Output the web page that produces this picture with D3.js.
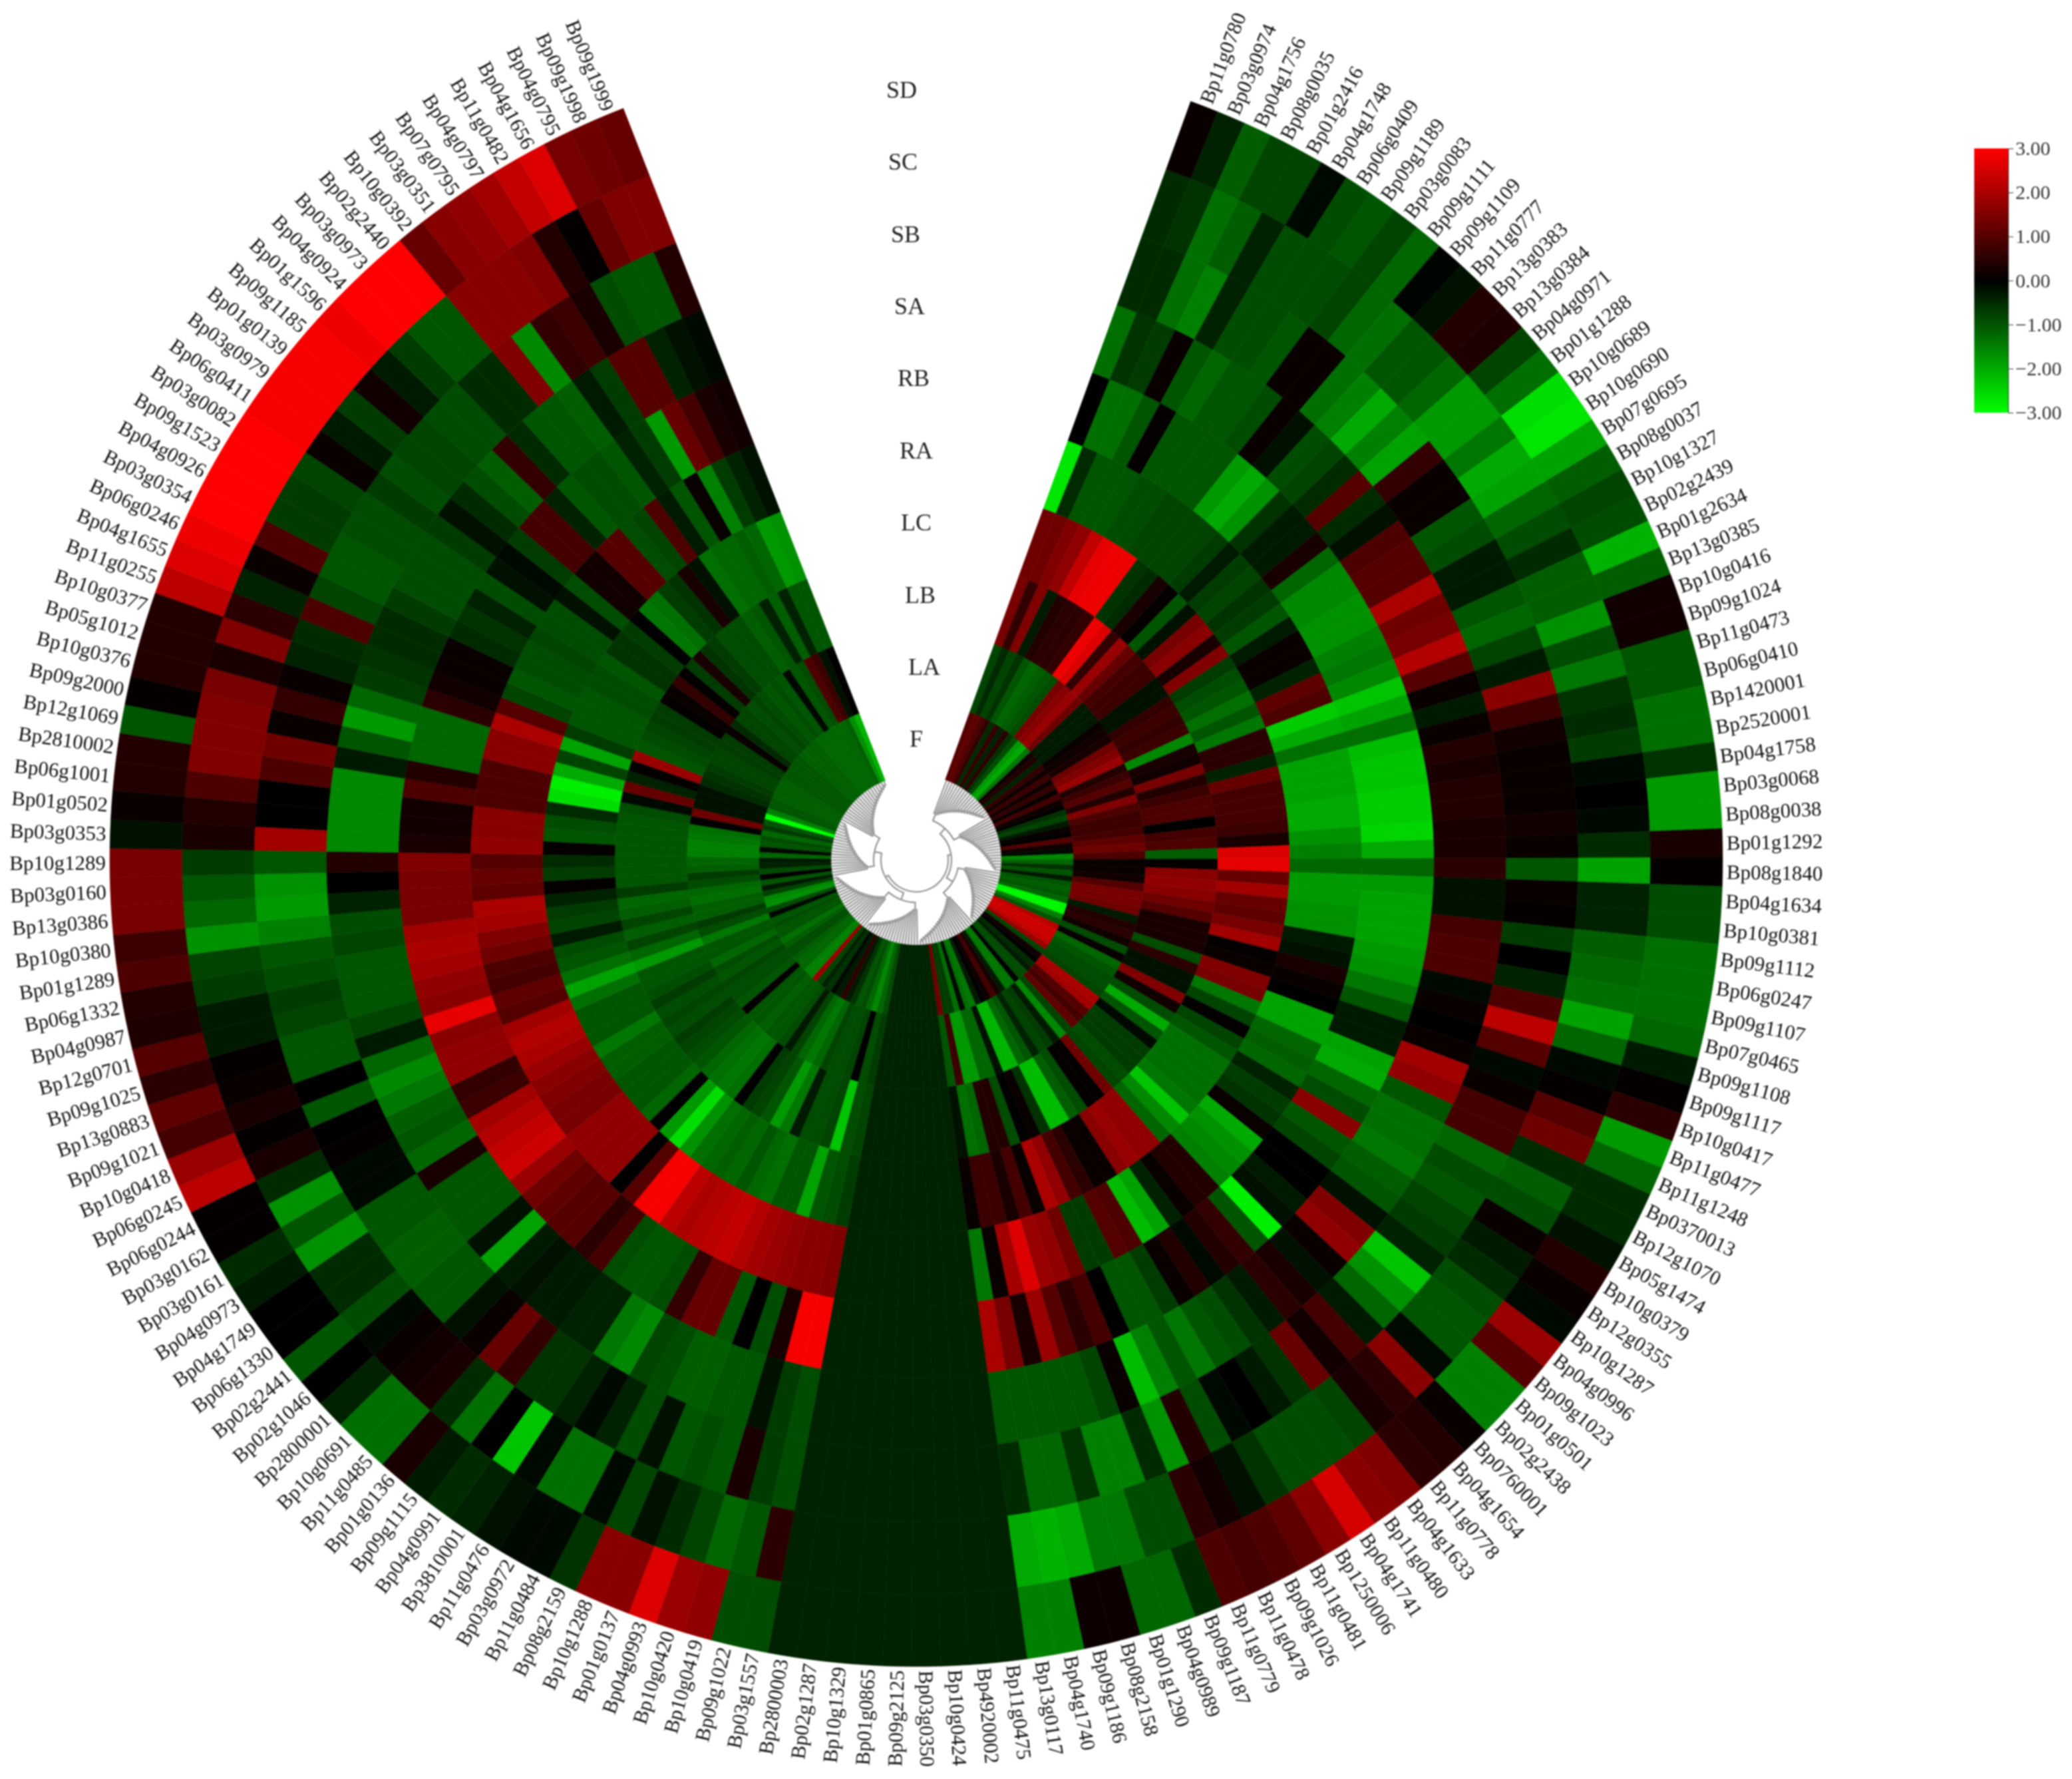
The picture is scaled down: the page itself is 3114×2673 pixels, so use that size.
<!DOCTYPE html>
<html><head><meta charset="utf-8">
<script src="https://cdn.jsdelivr.net/npm/d3@7"></script>
<style>html,body{margin:0;background:#fff}svg{display:block}text{font-family:"Liberation Serif",serif}</style>
</head><body><svg id="c" width="3114" height="2673"></svg>
<script>
const genes=["Bp11g0780","Bp03g0974","Bp04g1756","Bp08g0035","Bp01g2416","Bp04g1748","Bp06g0409","Bp09g1189","Bp03g0083","Bp09g1111",
"Bp09g1109","Bp11g0777","Bp13g0383","Bp13g0384","Bp04g0971","Bp01g1288","Bp10g0689","Bp10g0690","Bp07g0695","Bp08g0037",
"Bp10g1327","Bp02g2439","Bp01g2634","Bp13g0385","Bp10g0416","Bp09g1024","Bp11g0473","Bp06g0410","Bp1420001","Bp2520001",
"Bp04g1758","Bp03g0068","Bp08g0038","Bp01g1292","Bp08g1840","Bp04g1634","Bp10g0381","Bp09g1112","Bp06g0247","Bp09g1107",
"Bp07g0465","Bp09g1108","Bp09g1117","Bp10g0417","Bp11g0477","Bp11g1248","Bp0370013","Bp12g1070","Bp05g1474","Bp10g0379",
"Bp12g0355","Bp10g1287","Bp04g0996","Bp09g1023","Bp01g0501","Bp02g2438","Bp0760001","Bp04g1654","Bp11g0778","Bp04g1633",
"Bp11g0480","Bp04g1741","Bp1250006","Bp11g0481","Bp09g1026","Bp11g0478","Bp11g0779","Bp09g1187","Bp04g0989","Bp01g1290",
"Bp08g2158","Bp09g1186","Bp04g1740","Bp13g0117","Bp11g0475","Bp4920002","Bp10g0424","Bp03g0350","Bp09g2125","Bp01g0865",
"Bp10g1329","Bp02g1287","Bp2800003","Bp03g1557","Bp09g1022","Bp10g0419","Bp10g0420","Bp04g0993","Bp01g0137","Bp10g1288",
"Bp08g2159","Bp11g0484","Bp03g0972","Bp11g0476","Bp3810001","Bp04g0991","Bp09g1115","Bp01g0136","Bp11g0485","Bp10g0691",
"Bp2800001","Bp02g1046","Bp02g2441","Bp06g1330","Bp04g1749","Bp04g0973","Bp03g0161","Bp03g0162","Bp06g0244","Bp06g0245",
"Bp10g0418","Bp09g1021","Bp13g0883","Bp09g1025","Bp12g0701","Bp04g0987","Bp06g1332","Bp01g1289","Bp10g0380","Bp13g0386",
"Bp03g0160","Bp10g1289","Bp03g0353","Bp01g0502","Bp06g1001","Bp2810002","Bp12g1069","Bp09g2000","Bp10g0376","Bp05g1012",
"Bp10g0377","Bp11g0255","Bp04g1655","Bp06g0246","Bp03g0354","Bp04g0926","Bp09g1523","Bp03g0082","Bp06g0411","Bp03g0979",
"Bp01g0139","Bp09g1185","Bp01g1596","Bp04g0924","Bp03g0973","Bp02g2440","Bp10g0392","Bp03g0351","Bp07g0795","Bp04g0797",
"Bp11g0482","Bp04g1656","Bp04g0795","Bp09g1998","Bp09g1999"];
const SD=[0.1,-0.4,-1.1,-0.8,-0.8,-0.1,-0.9,-1.0,-0.8,-1.2,
-0.05,-0.2,0.4,0.35,-0.8,-1.3,-2.6,-2.7,-1.9,-1.1,
-0.8,-0.9,-2.1,-1.1,0.2,0.2,-1.0,-1.0,-1.3,-1.3,
-0.6,-1.8,-1.8,0.3,0.05,-0.9,-0.9,-1.3,-1.3,-1.3,
-1.2,-0.3,0.05,0.5,-1.8,-1.2,-0.5,-0.5,-0.2,0.4,
0.1,-0.1,1.8,1.0,-1.5,-1.5,0.1,0.4,0.5,1.5,
1.6,2.5,1.6,1.1,0.9,0.8,0.9,-0.5,-1.2,-1.2,
0.15,0.15,-1.5,-1.5,-0.4,-0.4,-0.4,-0.4,-0.4,-0.4,
-0.4,-0.4,-0.4,-0.9,-0.9,1.7,1.8,2.6,1.6,1.6,
-0.6,-0.1,-0.1,-0.2,-0.4,-0.5,-0.3,0.3,-1.3,-1.3,
-0.4,0.0,-1.0,0.0,0.0,-0.3,-0.5,0.05,0.05,2.2,
1.8,0.8,1.1,0.5,1.0,0.35,0.4,0.9,0.7,1.4,
1.4,1.4,-0.2,0.1,0.4,0.4,-1.0,0.05,0.4,0.4,
0.4,2.2,2.6,2.8,3,3,3,3,2.9,2.9,
2.9,2.9,2.8,3,3,3,1.2,1.6,1.7,1.9,
2.3,2.6,1.4,1.3,1.2];
const SC=[-0.5,-0.6,-1.3,-1.1,-0.4,-0.9,-0.9,-0.9,-0.8,-1.2,
-1.3,-1.0,-1.0,-1.2,-1.8,-1.8,-1.4,-2.0,-1.9,-1.2,
-0.9,-0.5,-1.1,-1.1,-1.7,-0.9,-1.4,-0.6,-0.5,-0.7,
-0.1,0.0,-0.1,-0.5,-1.9,-0.4,-0.4,-1.1,-1.2,-1.3,
-1.9,-1.2,-0.1,0.05,1.0,1.3,-0.5,-1.1,-0.9,0.1,
-0.3,-0.5,-0.9,-1.0,-1.0,-0.1,1.6,0.5,0.3,-0.8,
-0.9,-0.9,-0.9,-0.6,-0.2,0.2,0.5,-0.9,-0.9,-1.4,
-1.4,-2.0,-2.1,-2.0,-0.4,-0.4,-0.4,-0.4,-0.4,-0.4,
-0.4,-0.4,-0.4,0.5,-1.0,-1.2,-0.8,-0.5,-0.2,-0.8,
-0.1,-1.3,-1.3,-0.1,-2.3,0.0,-1.3,-0.5,0.3,0.2,
0.1,-0.1,-0.9,-0.5,-0.5,-1.7,-1.0,-1.7,-0.5,0.3,
0.05,0.3,0.1,0.05,-0.3,-0.3,-0.7,-0.8,-1.7,-1.2,
-1.0,-0.7,0.3,0.4,0.9,1.5,1.5,1.5,1.4,0.3,
1.5,0.5,-0.4,0.1,0.9,-0.7,-0.7,-0.8,0.1,-0.3,
-0.7,0.2,-0.3,-0.7,-1.0,-1.0,1.6,1.6,1.6,1.5,
0.4,0.05,1.2,1.5,1.5];
const SB=[-0.5,-0.5,-1.3,-1.5,-0.4,-0.9,-0.9,-1.0,0.1,0.1,
-1.3,-1.5,-2.0,-1.5,-1.9,0.6,0.1,0.1,-1.0,-0.9,
-0.3,-0.3,-1.0,-1.2,-0.8,-0.3,1.6,0.7,0.2,0.1,
0.1,0.1,0.2,0.1,-1.0,0.1,0.05,-0.7,0.0,-0.4,
0.9,2.2,1.0,-0.1,0.1,0.8,0.8,-1.2,-0.9,-1.0,
-0.8,-0.7,-0.4,-2.3,-1.7,-1.2,-0.3,0.8,0.2,1.2,
-0.6,-0.3,0,-0.1,-0.9,0.4,-1.7,-0.5,-1.5,-1.5,
-0.6,-1.2,-1.2,-0.5,-0.4,-0.4,-0.4,-0.4,-0.4,-0.4,
-0.4,-0.4,-0.4,-0.9,-0.7,0.3,-1.0,-0.9,-1.0,-0.2,
-0.9,-0.4,-0.1,-0.4,-0.6,-0.6,0.6,1.2,0.1,-0.2,
-1.0,-1.0,-1.1,-1.1,-1.0,-1.0,-0.1,-0.1,0.05,0.0,
-1.0,0.0,-1.0,-1.0,-0.8,-0.7,-0.9,-1.0,-1.5,-1.8,
-1.7,-1.0,1.9,0,0,0.9,1.3,0.1,0.6,0.1,
-0.4,-0.5,0.9,-0.8,-1.0,-1.0,-0.9,-0.9,-0.7,-0.9,
-0.8,-0.8,-0.9,-0.9,-0.5,-0.5,1.5,-1.6,0.6,0.7,
0.3,-0.9,-1.0,-1.0,0.4];
const SA=[-1.3,-0.6,-0.7,0.1,-1.0,-1.2,-1.0,-1.0,-0.9,0.1,
-0.2,-0.9,-0.8,-0.5,1.0,-0.5,-0.2,0.9,1.0,1.0,
2.0,1.3,1.4,2.1,1.0,0.1,-0.3,0.1,0.4,0.3,
0.4,0.4,0.3,0.3,0.5,-0.2,-0.2,0.8,0.9,0.9,
-0.1,0.1,0.0,0.1,1.9,1.7,-1.0,-1.3,-1.3,-1.4,
-1.1,-1.0,-0.2,1.5,1.7,0.1,-0.2,0.3,0.5,-0.3,
-0.6,-0.9,-1.0,-1.4,-1.0,-1.5,-2.2,0.1,-0.8,-1.0,
-1.0,-1.0,-1.0,-1.0,-0.4,-0.4,-0.4,-0.4,-0.4,-0.4,
-0.4,-0.4,-0.4,-0.9,-0.7,-0.2,-1.0,-1.0,-1.1,-1.1,
-0.9,-0.8,-1.6,-1.4,-0.4,-0.4,-0.3,-0.3,-0.2,-0.3,
-1.9,-0.2,-1.0,-1.0,-1.0,0.3,-1.2,-1.0,-1.1,-1.4,
-1.6,-1.2,-0.3,-0.8,-1.0,-1.0,-1.0,-0.8,-0.9,-0.4,
0.0,0.4,-1.6,-1.6,-1.6,-1.6,-0.3,-1.0,-1.8,-1.2,
-0.7,-0.6,-0.5,-0.5,-0.7,-0.9,-0.9,-0.9,-0.7,-0.2,
-0.5,-0.9,-1.1,0.6,-0.5,-1.0,-1.0,-1.1,-0.3,-0.7,
1.0,1.0,-0.4,-0.2,-0.1];
const RB=[0.0,-1.3,-1.3,-1.0,0.05,-1.0,-1.0,-1.0,-1.0,-1.8,
-2.0,-1.7,-0.6,-0.3,-0.3,0.3,-1.2,-1.6,-1.6,-1.7,
-1.7,-1.5,-1.4,-1.6,-2.3,-1.9,-1.3,-2.2,-2.3,-2.3,
-2.4,-2.4,-2.5,-2.0,-1.2,-1.8,-1.9,-1.9,-1.9,-1.8,
-1.7,-1.4,-1.0,-0.3,-0.3,-1.9,-2.0,-1.2,-0.9,1.6,
-1.0,-0.8,0.0,0.0,-0.3,-0.2,-2.8,-1.0,0.6,0.4,
-0.1,0.4,0.1,-0.7,-1.0,-1.0,0.0,0.8,0.5,1.0,
1.8,0.3,1.4,2.0,-0.4,-0.4,-0.4,-0.4,-0.4,-0.4,
-0.4,-0.4,-0.4,2.9,2.9,0.3,-0.9,0.0,-1.0,1.2,
1.2,0.6,-0.9,-1.0,-1.0,-0.9,0.8,0.5,1.0,1.0,
1.1,1.3,1.8,2.4,2.3,2.1,1.9,0.7,0.6,1.7,
1.7,1.6,2.7,1.6,1.7,1.9,2.0,1.9,1.4,1.4,
1.4,1.5,0.3,0.2,0.2,0.9,0.4,-1.2,-1.2,-1.2,
0.5,0.2,0.1,0.1,-0.5,-0.6,-0.4,-0.9,-0.2,-0.1,
-0.7,0.8,0.8,-0.4,-1.0,-0.9,-0.9,-1.0,-0.4,-0.7,
-1.8,1.2,0.8,0.3,0.2];
const RA=[-2.7,-0.5,-1.0,-1.0,-1.0,-0.9,-0.9,-0.8,-0.8,-0.8,
-0.8,-0.7,-0.3,-0.7,-0.8,-0.6,-0.7,-1.0,-0.3,0.1,
0.1,-0.4,1.1,0.9,-2.4,-2.0,-1.3,-1.9,-1.9,-1.9,
-2.0,-2.0,-1.7,-1.5,-1.2,-1.8,-1.8,-1.7,-1.7,-0.3,
-0.2,0.3,0.1,0.0,-1.9,-1.9,-1.2,-1.1,-1.2,-0.4,
-0.7,-0.6,0.1,-2.0,-1.7,-1.6,-1.5,0.4,0.4,0.1,
-0.4,-1.9,-2.2,0.9,1.0,-0.7,-0.7,1.3,1.7,1.8,
2.6,1.9,0.1,-1.4,-0.4,-0.4,-0.4,-0.4,-0.4,-0.4,
-0.4,-0.4,-0.4,1.5,1.6,1.6,1.7,1.8,1.9,2.1,
2.3,2.2,2.1,2.0,2.2,2.9,2.9,1.0,0.0,1.7,
1.7,1.7,1.7,1.4,1.4,1.5,1.6,1.8,2.0,2.1,
1.9,1.0,1.1,0.8,0.9,1.3,1.5,1.9,2.0,1.1,
1.2,1.0,1.7,1.6,1.6,0.9,0.9,0.9,1.6,1.6,
2.0,1.0,-0.8,-1.0,-0.9,-0.9,-0.8,-0.9,-0.9,-0.2,
-0.9,0.2,0.2,1.0,1.0,-0.9,-0.8,0.9,-0.3,-1.0,
0.1,-1.5,-0.7,-0.4,-0.2];
const LC=[1.3,1.3,1.5,1.7,2.3,2.7,2.8,2.8,-0.6,-0.5,
0.3,0.05,-1.0,-0.2,1.4,1.6,0.3,1.5,-0.7,-0.9,
-1.0,-1.3,-1.0,-1.4,0.5,0.5,-0.4,1.2,0.8,0.8,
0.8,0.7,0.3,2.6,2.7,1.2,1.9,1.2,1.1,1.4,
1.9,0.05,0.1,1.5,1.4,-1.4,-0.8,0.05,-0.8,-1.0,
-1.3,-1.3,-1.3,-1.3,-1.4,-2.3,-1.6,-1.2,1.7,1.7,
1.8,1.6,0.1,0.1,0.5,0.8,1.7,2.0,0.1,0.8,
0.3,0.7,0.7,0.1,-0.4,-0.4,-0.4,-0.4,-0.4,-0.4,
-0.4,-0.4,-0.4,-0.7,-0.9,-1.0,-1.9,-1.0,-1.0,-1.3,
-1.2,-1.0,-1.2,-1.1,-1.2,-1.3,-1.7,-2.6,-1.8,0.0,
-1.2,-1.0,-1.0,-1.0,-1.1,-1.1,-1.4,-1.0,-1.0,-1.0,
-1.3,-1.9,-1.3,-1.0,-0.9,-0.3,-0.8,-0.7,-0.4,0.05,
-0.7,-0.5,0.05,-1.0,-0.9,-0.5,-2.6,-2.8,-2.0,-0.8,
-1.9,-0.7,-1.0,-1.0,-1.0,-0.9,-0.9,-1.0,-0.6,-0.6,
-0.7,0.0,-1.4,-1.3,-0.7,-0.6,0.3,-0.2,-1.3,-1.2,
-1.2,-1.1,-1.2,-1.8,-1.7];
const LB=[1.4,0.6,1.5,-0.3,0.4,0.5,0.5,0.6,2.8,2.6,
0.6,1.8,1.2,0.8,0.7,0.7,-0.2,-0.2,0.6,0.7,
0.6,0.7,-1.6,0.3,0.2,1.4,0.4,0.7,0.9,0.9,
0.0,0.8,0.9,-1.1,0.05,1.6,1.7,1.6,1.3,1.0,
0.3,0.3,0.3,-0.9,0.5,-0.2,-0.2,1.5,0.2,-0.9,
-2.0,-1.0,-0.1,-0.7,-0.7,-0.7,-0.9,-0.8,1.3,0.05,
0.05,-0.9,-1.1,-2.2,-2.2,-0.6,0.1,0.0,-0.9,0.4,
0.4,-1.2,-1.3,-0.2,-0.4,-0.4,-0.4,-0.4,-0.4,-0.4,
-0.4,-0.4,-0.4,-0.8,-0.9,-2.3,-0.8,-0.9,-0.9,-0.3,
-1.4,-1.8,-1.0,-0.8,-0.7,0.0,-1.3,-1.4,-1.3,-1.2,
-1.0,-0.9,-0.8,-0.7,-0.9,-0.8,-0.9,-0.7,-0.9,-1.0,
-1.0,-1.8,-1.2,-0.8,-1.1,-0.8,-1.1,-1.2,-0.7,-1.0,
-1.0,-1.0,-1.0,-1.0,-1.0,-1.0,-0.9,-0.1,1.2,-0.4,
0.05,1.8,-1.0,-0.9,-0.8,-0.7,-0.7,0.05,0.1,0.6,
0.05,-0.7,0.3,-0.6,-0.7,-0.9,-0.9,-0.9,-1.1,-1.0,
-0.4,-1.1,-0.4,-1.0,-1.0];
const LA=[-0.8,-0.5,-0.8,-0.6,-1.0,-1.2,-1.1,-1.0,-0.9,1.4,
1.6,1.8,1.3,-0.3,-0.3,-0.3,0.1,0.2,0.3,1.3,
1.5,1.8,0.4,0.7,1.0,0.4,1.5,0.9,0.7,0.7,
0.8,1.1,1.3,0.9,0.1,0.1,0.2,1.0,1.4,1.4,
1.3,-0.3,0.4,0.5,0.2,-0.9,0.1,-1.2,-1.0,-0.9,
-0.9,-0.8,2.0,1.9,1.0,0.8,1.1,-0.8,-1.6,-0.3,
-0.7,-0.8,-0.4,-1.0,-1.2,-2.1,-2.1,-0.2,-1.2,-1.2,
-1.8,-1.8,0.7,-1.0,-0.4,-0.4,-0.4,-0.4,-0.4,-0.4,
-0.4,-0.4,-0.4,-0.7,-0.9,0.0,-0.8,-0.9,-0.9,-0.8,
-1.2,-1.4,-1.2,-0.8,-0.3,-0.9,-1.0,-1.0,-1.1,-1.0,
-1.0,0.05,-1.0,-0.9,-0.9,-0.8,-1.0,-0.9,-1.2,-1.0,
-1.0,-1.4,-0.9,-0.7,-1.1,-1.1,-1.3,-1.2,-0.9,-0.7,
-1.1,-1.2,-1.5,-1.5,-1.4,-1.3,0.05,1.3,-0.2,-0.2,
-0.2,-0.5,-0.6,-0.7,-0.8,-0.8,-0.7,-0.7,0.1,-0.5,
-0.8,-0.8,-0.9,-0.8,-0.9,-1.0,-0.9,-1.0,-0.1,-1.0,
-0.9,0.9,0.7,-0.2,0.05];
const F=[1.0,1.1,0.9,0.6,-0.5,0.6,-0.4,0.5,-0.6,-0.9,
-1.8,-2.0,-1.4,0.2,0.4,-0.4,0.6,0.2,0.7,0.2,
0.6,0.1,0.8,0.2,0.05,-0.6,-0.8,-0.3,0.1,0.0,
1.0,0.2,-0.1,-1.6,-1.2,-0.6,-1.0,-0.3,-1.0,-1.1,
-1.0,-1.2,-2.9,-2.9,-1.5,-1.0,2.2,2.4,2.4,2.3,
1.8,-0.8,0.2,0.0,-0.5,-0.3,-0.9,-0.9,0.0,-1.4,
-1.4,-0.3,0.3,0.8,0.2,0.0,-0.3,-1.4,-1.3,-0.1,
-1.3,-0.7,-0.7,1.3,-0.4,-0.4,-0.4,-0.4,-0.4,-0.4,
-0.4,-0.4,-0.4,-0.9,-1.2,-1.6,-1.2,-0.9,-1.0,-0.6,
-0.3,0.5,-0.3,-0.1,-0.6,-0.4,-0.8,1.8,-1.5,-1.5,
-1.2,-1.2,-1.1,-0.9,-0.9,-1.1,-1.3,-1.0,-1.0,-0.9,
-1.0,-0.1,-0.9,-1.7,-1.6,-0.8,-0.3,-1.0,0.0,-0.9,
-0.4,-0.3,-1.2,-0.1,-1.0,-0.9,-1.2,-0.7,-1.0,-3.0,
-1.5,-1.0,-1.0,-1.1,-1.1,-1.1,-1.1,-1.0,-1.0,-1.0,
-1.0,-1.0,-1.1,-1.1,-1.1,-1.1,-1.2,-1.2,-1.2,-1.2,
-1.2,-1.2,-1.1,-1.7,-2.1];
const ringNames=["F","LA","LB","LC","RA","RB","SA","SB","SC","SD"];
const ringValues=[F,LA,LB,LC,RA,RB,SA,SB,SC,SD];
const ringLabelShift=[0,6,3,0,0,-2,-5,-8,-10,-11];
const legendTicks=[3,2,1,0,-1,-2,-3];

const svg=d3.select("#c"),cx=1377,cy=1292;
const deg=Math.PI/180;
const angle=d3.scaleBand().domain(genes).range([19.9*deg,338.7*deg]);
const radius=d3.scaleBand().domain(ringNames).range([128,1212]);
const color=d3.scaleLinear().domain([-3,0,3]).range(["#00ff00","#000000","#ff0000"]);
svg.style("filter","blur(0.9px)");
const root=svg.append("g").attr("transform",`translate(${cx},${cy})`);
const arc=d3.arc();

ringNames.forEach((ring,r)=>{
  root.append("g").selectAll("path").data(genes).join("path")
   .attr("d",g=>arc({innerRadius:radius(ring),outerRadius:radius(ring)+radius.bandwidth(),startAngle:angle(g),endAngle:angle(g)+angle.bandwidth()}))
   .attr("fill",(g,i)=>color(ringValues[r][i]))
   .attr("stroke",(g,i)=>color(ringValues[r][i])).attr("stroke-width",0.6);
});

// gene labels
root.append("g").selectAll("text").data(genes).join("text")
 .attr("font-size",31).attr("fill","#111").attr("dy","0.34em")
 .attr("text-anchor",g=>(angle(g)+angle.bandwidth()/2)>Math.PI?"end":"start")
 .attr("transform",g=>{const a=(angle(g)+angle.bandwidth()/2)/deg;
   return `rotate(${a-90}) translate(1218,0)`+(a>180?" rotate(180)":"");})
 .text(g=>g);

// ring names
root.append("g").selectAll("text").data(ringNames).join("text")
 .attr("font-size",36).attr("text-anchor","middle").attr("fill","#222").attr("dy","0.35em")
 .attr("x",(d,i)=>ringLabelShift[i]*2)
 .attr("y",d=>-(radius(d)+radius.bandwidth()/2))
 .text(d=>d);

// dendrogram: nested binary tree over the gene order
function build(lo,hi){
  if(hi-lo===1) return {name:genes[lo]};
  const n=hi-lo, ladder=n<=20, mid=ladder?lo+1:lo+Math.floor(n/2);
  return {ladder,children:[build(lo,mid),build(mid,hi)]};
}
const h=d3.hierarchy(build(0,genes.length));
h.leaves().forEach((l,i)=>{l.a=angle(genes[i])+angle.bandwidth()/2;});
h.eachAfter(n=>{if(n.children)n.a=(n.children[0].a+n.children[1].a)/2;});
h.eachBefore(n=>{n.r=n.parent?n.parent.r+(n.parent.data.ladder?2.6:(n.depth<2?5:11)):48; if(!n.children)n.r=128;});
const pt=(a,r)=>[r*Math.sin(a),-r*Math.cos(a)];
const dend=d3.path();
h.descendants().forEach(n=>{ if(!n.parent)return;
  const p=n.parent; const[a0,a1]=[n.a,p.a];
  const s=pt(a0,n.r),e=pt(a0,p.r);
  dend.moveTo(s[0],s[1]);dend.lineTo(e[0],e[1]);
  dend.arc(0,0,p.r,a0-Math.PI/2,a1-Math.PI/2,a1<a0);
});
root.append("path").attr("d",dend.toString()).attr("fill","none").attr("stroke","#979797").attr("stroke-width",2.3);

// colour legend
const defs=svg.append("defs");
const grad=defs.append("linearGradient").attr("id","lg").attr("x1",0).attr("x2",0).attr("y1",0).attr("y2",1);
[3,0,-3].forEach((v,i)=>grad.append("stop").attr("offset",i/2).attr("stop-color",color(v)));
const ly=d3.scaleLinear().domain([3,-3]).range([223,620]);
svg.append("rect").attr("x",2967).attr("y",ly(3)).attr("width",51).attr("height",ly(-3)-ly(3)).attr("fill","url(#lg)");
const ax=svg.append("g").attr("transform","translate(3018,0)")
 .call(d3.axisRight(ly).tickValues(legendTicks).tickSize(8).tickSizeOuter(0).tickFormat(d3.format(".2f")));
ax.selectAll("text").attr("font-size",30).attr("font-family","Liberation Serif").attr("fill","#333");
ax.selectAll("line,path").attr("stroke","#333");
</script></body></html>
